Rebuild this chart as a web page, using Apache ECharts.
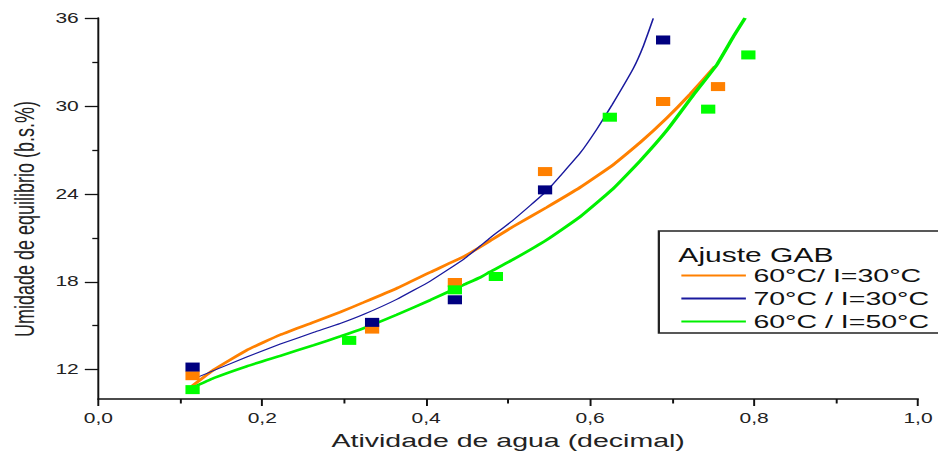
<!DOCTYPE html>
<html>
<head>
<meta charset="utf-8">
<script src="https://cdn.jsdelivr.net/npm/echarts@6/dist/echarts.min.js"></script>
<style>
html,body{margin:0;padding:0;background:#fff;overflow:hidden;}
#wrap{width:938px;height:455px;overflow:hidden;position:relative;}
#chart{width:625px;height:455px;transform:scaleX(1.5008);transform-origin:0 0;}
</style>
</head>
<body>
<div id="wrap"><div id="chart"></div></div>
<script>
// ---- data ----
const xTicks = [0, 0.2, 0.4, 0.6, 0.8, 1.0];
const yTicks = [12, 18, 24, 30, 36];
const yMinorTicks = [15, 21, 27, 33];
const seriesNames = ['60°C/ I=30°C', '70°C / I=30°C', '60°C / I=50°C'];
const legendTitle = 'Ajuste GAB';
const xTitle = 'Atividade de agua (decimal)';
const yTitle = 'Umidade de equilibrio (b.s.%)';

// experimental points
const obs60_30 = [[0.115,11.59],[0.334,14.77],[0.435,17.95],[0.545,25.52],[0.689,30.30],[0.756,31.32]];
const obs70_30 = [[0.115,12.18],[0.334,15.23],[0.435,16.77],[0.545,24.27],[0.689,34.5]];
const obs60_50 = [[0.115,10.64],[0.306,14.0],[0.435,17.45],[0.485,18.36],[0.624,29.23],[0.744,29.78],[0.793,33.48]];

// GAB fitted curves (traced)
const fit60_30 = [[0.114,10.86],[0.141,12.0],[0.181,13.33],[0.222,14.38],[0.263,15.25],[0.295,15.93],[0.324,16.6],[0.364,17.55],[0.405,18.65],[0.446,19.72],[0.466,20.38],[0.478,20.8],[0.507,21.8],[0.547,23.08],[0.588,24.45],[0.628,25.98],[0.661,27.5],[0.694,29.2],[0.722,30.8],[0.752,32.68]];
const fit70_30 = [[0.114,11.32],[0.181,12.87],[0.222,13.75],[0.263,14.55],[0.295,15.15],[0.324,15.78],[0.364,16.8],[0.405,18.05],[0.446,19.55],[0.466,20.45],[0.478,21.0],[0.507,22.25],[0.547,24.2],[0.588,26.8],[0.608,28.4],[0.627,30.1],[0.653,32.6],[0.665,34.1],[0.677,35.98]];
const fit60_50 = [[0.114,10.75],[0.141,11.43],[0.181,12.23],[0.222,12.95],[0.263,13.68],[0.295,14.27],[0.324,14.84],[0.364,15.75],[0.405,16.75],[0.446,17.8],[0.466,18.3],[0.478,18.68],[0.507,19.55],[0.547,20.86],[0.588,22.45],[0.628,24.35],[0.661,26.25],[0.694,28.36],[0.726,30.75],[0.755,32.85],[0.775,34.75],[0.789,36.0]];

const colors = ['#ff8000', '#1a1a9e', '#00f000'];
const markerColors = ['#ff8000', '#000080', '#00ff00'];
const FONT = 'Liberation Sans, Arial, sans-serif';

const chart = echarts.init(document.getElementById('chart'), null, {renderer: 'svg'});

const fits = [fit60_30, fit70_30, fit60_50];
const obs = [obs60_30, obs70_30, obs60_50];
const widths = [2.5, 1.1, 2.5];

const series = [];
fits.forEach((d, i) => {
  series.push({
    name: seriesNames[i], type: 'line', data: d, symbol: 'none', smooth: 0.12,
    lineStyle: {color: colors[i], width: widths[i]}, itemStyle: {color: colors[i]},
    z: 2, clip: true
  });
});
obs.forEach((d, i) => {
  series.push({
    name: seriesNames[i] + ' pts', type: 'scatter', data: d, symbol: 'rect', symbolSize: [9.5, 9],
    itemStyle: {color: markerColors[i], opacity: 1}, z: 3
  });
});

chart.setOption({
  animation: false,
  backgroundColor: '#fff',
  grid: {left: 65.5, right: 13.3, top: 18, bottom: 56, containLabel: false},
  xAxis: {
    type: 'value', min: xTicks[0], max: xTicks[xTicks.length - 1], interval: 0.2,
    name: xTitle, nameLocation: 'middle', nameGap: 32,
    nameTextStyle: {fontSize: 19, color: '#222', fontFamily: FONT},
    axisLine: {lineStyle: {color: '#111', width: 1.5}},
    axisTick: {show: true, inside: false, length: 7, lineStyle: {color: '#111', width: 1.3}},
    minorTick: {show: true, splitNumber: 2, length: 4.5, lineStyle: {color: '#111', width: 1.3}},
    axisLabel: {fontSize: 14, color: '#222', fontFamily: FONT, margin: 12,
      formatter: v => v.toFixed(1).replace('.', ',')},
    splitLine: {show: false}
  },
  yAxis: [{
    type: 'value', min: 10, max: 36, position: 'left',
    axisLine: {show: true, lineStyle: {color: '#111', width: 1.3}},
    axisTick: {show: true, inside: false, length: 9, customValues: yTicks, lineStyle: {color: '#111', width: 1.3}},
    axisLabel: {fontSize: 14, color: '#222', fontFamily: FONT, margin: 13, customValues: yTicks},
    splitLine: {show: false}
  }, {
    type: 'value', min: 10, max: 36, position: 'left',
    axisLine: {show: false},
    axisTick: {show: true, inside: false, length: 4, customValues: yMinorTicks, lineStyle: {color: '#111', width: 1.3}},
    axisLabel: {show: false},
    splitLine: {show: false}
  }],
  legend: {
    data: seriesNames, orient: 'vertical', left: 439, top: 231,
    padding: [33, 20, 0, 14], itemWidth: 43, itemHeight: 14, itemGap: 0,
    selectedMode: false,
    itemStyle: {opacity: 0},
    borderColor: '#222', borderWidth: 1.5,
    textStyle: {fontSize: 19, lineHeight: 23, color: '#111', fontFamily: FONT}
  },
  graphic: [{
    type: 'text', x: 452, y: 255, z: 100,
    style: {text: legendTitle, fontSize: 20, fontFamily: FONT, fill: '#111', textAlign: 'left', textVerticalAlign: 'middle'}
  }, {
    type: 'text', x: 16.7, y: 219, rotation: Math.PI / 2, z: 100,
    style: {text: yTitle, fontSize: 18, fontFamily: FONT, fill: '#222', textAlign: 'center', textVerticalAlign: 'middle'}
  }],
  series: series
});
</script>
</body>
</html>
